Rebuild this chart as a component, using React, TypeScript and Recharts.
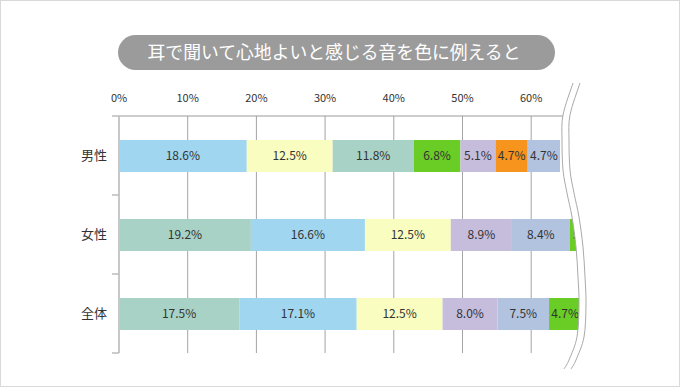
import React from 'react';
import { BarChart, Bar, XAxis, YAxis, CartesianGrid, Cell, LabelList } from 'recharts';

const categories = ['男性', '女性', '全体'];
const maleValues = [18.6, 12.5, 11.8, 6.8, 5.1, 4.7, 4.7];
const femaleValues = [19.2, 16.6, 12.5, 8.9, 8.4, 5.0];
const totalValues = [17.5, 17.1, 12.5, 8.0, 7.5, 4.7];
const xTicks = [0, 10, 20, 30, 40, 50, 60];
const title = '耳で聞いて心地よいと感じる音を色に例えると';

const SKY = '#a0d6ef';
const YELLOW = '#fafdc0';
const SAGE = '#a8d2c5';
const GREEN = '#6acd25';
const LAVENDER = '#c6bddd';
const ORANGE = '#f7941d';
const BLUEGRAY = '#b2c3e0';

const maleColors = [SKY, YELLOW, SAGE, GREEN, LAVENDER, ORANGE, BLUEGRAY];
const femaleColors = [SAGE, SKY, YELLOW, LAVENDER, BLUEGRAY, GREEN];
const totalColors = [SAGE, SKY, YELLOW, LAVENDER, BLUEGRAY, GREEN];

const rowValues = [maleValues, femaleValues, totalValues];
const rowColors = [maleColors, femaleColors, totalColors];
const segCount = 7;

const data = categories.map((name, r) => {
  const row: any = { name };
  rowValues[r].forEach((v, i) => {
    row[`s${i}`] = v;
  });
  return row;
});

const FONT = '"Noto Sans CJK JP", "Noto Sans", sans-serif';
const W = 680;
const H = 387;
const M = { top: 86, right: 76, bottom: 34, left: 0 };
const Y_AXIS_W = 119;
const X_AXIS_H = 30;
const plotLeft = M.left + Y_AXIS_W;
const plotTop = M.top + X_AXIS_H;
const plotBottom = H - M.bottom;
const band = (plotBottom - plotTop) / categories.length;

const wavePts: [number, number][] = [
  [573, 83], [563, 115], [562, 140], [563, 170], [567, 193], [572, 217],
  [576, 247], [578, 277], [579, 305], [577, 337], [569, 360], [564, 369],
];

function smoothPath(pts: [number, number][], dx = 0) {
  const p = pts.map(([x, y]) => [x + dx, y]);
  let d = `M${p[0][0]},${p[0][1]}`;
  for (let i = 0; i < p.length - 1; i++) {
    const p0 = p[i - 1] || p[i];
    const p1 = p[i];
    const p2 = p[i + 1];
    const p3 = p[i + 2] || p2;
    const c1x = p1[0] + (p2[0] - p0[0]) / 6;
    const c1y = p1[1] + (p2[1] - p0[1]) / 6;
    const c2x = p2[0] - (p3[0] - p1[0]) / 6;
    const c2y = p2[1] - (p3[1] - p1[1]) / 6;
    d += ` C${c1x},${c1y} ${c2x},${c2y} ${p2[0]},${p2[1]}`;
  }
  return d;
}

const Overlay = () => {
  const left = smoothPath(wavePts, 0);
  const right = smoothPath(wavePts, 7);
  const ticksY = [1, 2, 3].map((k) => plotTop + band * k);
  return (
    <svg
      width={W}
      height={H}
      style={{ position: 'absolute', left: 0, top: 0, pointerEvents: 'none' }}
    >
      <line x1={plotLeft - 7} x2={plotLeft} y1={plotTop} y2={plotTop} stroke="#999" strokeWidth={1} />
      {ticksY.map((y, i) => (
        <line key={i} x1={plotLeft - 7} x2={plotLeft} y1={y} y2={y} stroke="#bbb" strokeWidth={1.5} />
      ))}
      <path d={`${left} L${W - 1},369 L${W - 1},80 Z`} fill="#fff" stroke="none" />
      <path d={left} fill="none" stroke="#aaa" strokeWidth={1} />
      <path d={right} fill="none" stroke="#aaa" strokeWidth={1} />
      <rect x={118} y={35} width={437} height={35} rx={17.5} ry={17.5} fill="#9b9b9b" />
      <text
        x={334}
        y={59}
        textAnchor="middle"
        fill="#fff"
        fontSize={18}
        fontFamily={FONT}
        textLength={373}
        lengthAdjust="spacingAndGlyphs"
      >
        {title}
      </text>
      <rect x={0.5} y={0.5} width={W - 1} height={H - 1} fill="none" stroke="#d9d9d9" strokeWidth={1} />
    </svg>
  );
};

export default function App() {
  return (
    <div style={{ position: 'absolute', left: 0, top: 0, width: W, height: H, background: '#fff', fontFamily: FONT }}>
      <BarChart width={W} height={H} data={data} layout="vertical" margin={M} barCategoryGap={0}>
        <CartesianGrid horizontal={false} vertical={true} stroke="#a3a3a3" />
        <XAxis
          type="number"
          orientation="top"
          domain={[0, 70]}
          ticks={xTicks}
          height={X_AXIS_H}
          tickFormatter={(v) => `${v}%`}
          axisLine={{ stroke: '#999' }}
          tickLine={false}
          tickSize={6}
          tickMargin={8}
          tick={{ fill: '#333', fontSize: 11, fontFamily: FONT }}
        />
        <YAxis
          type="category"
          dataKey="name"
          width={Y_AXIS_W}
          axisLine={{ stroke: '#c8c8c8', strokeWidth: 2 }}
          tickLine={false}
          tickSize={0}
          tickMargin={12}
          tick={{ fill: '#333', fontSize: 13, fontFamily: FONT }}
        />
        {Array.from({ length: segCount }, (_, i) => (
          <Bar key={i} dataKey={`s${i}`} stackId="a" barSize={32} isAnimationActive={false}>
            {data.map((_, r) => (
              <Cell key={r} fill={rowColors[r][i] || '#fff'} />
            ))}
            <LabelList
              dataKey={`s${i}`}
              position="center"
              formatter={(v: any) => (v == null ? '' : `${Number(v).toFixed(1)}%`)}
              style={{ fill: '#333', fontSize: 12, fontFamily: FONT }}
            />
          </Bar>
        ))}
      </BarChart>
      <Overlay />
    </div>
  );
}
